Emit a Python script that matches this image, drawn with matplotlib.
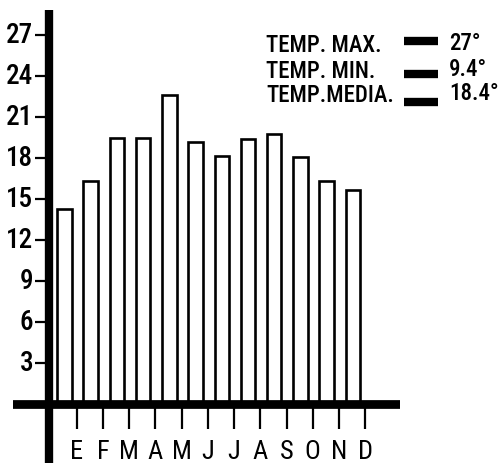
import matplotlib
matplotlib.use("Agg")
import matplotlib.pyplot as plt
from matplotlib.lines import Line2D

# Monthly mean temperature (deg C)
months = ["E", "F", "M", "A", "M", "J", "J", "A", "S", "O", "N", "D"]
temps = [14.3, 16.3, 19.5, 19.5, 22.6, 19.2, 18.2, 19.4, 19.8, 18.1, 16.3, 15.7]
yticks = [3, 6, 9, 12, 15, 18, 21, 24, 27]

legend_labels = ["TEMP. MAX.", "TEMP. MIN.", "TEMP.MEDIA."]
legend_values = ["27°", "9.4°", "18.4°"]

plt.rcParams["font.family"] = ["Roboto Condensed", "Liberation Sans Narrow", "DejaVu Sans"]
plt.rcParams["font.stretch"] = "condensed"

W, H = 499, 463
fig = plt.figure(figsize=(W / 100, H / 100), dpi=100)
fig.patch.set_facecolor("white")

# axes spans from baseline start (x=13px) to its end (x=400px), full height below y=10px
ax = fig.add_axes([13 / W, 0, (400 - 13) / W, (H - 10) / H])
ax.set_xlim(-1.966, 12.80)
ax.set_ylim(-4.32, 28.86)
ax.axis("off")

x = list(range(len(temps)))
ax.bar(x, temps, width=0.553, bottom=0, facecolor="white",
       edgecolor="black", linewidth=1.9, zorder=2)

# thick axis lines
ax.axvline(-0.592, color="black", linewidth=6.0, zorder=3)
ax.axhline(0, color="black", linewidth=6.3, zorder=3)

# y ticks drawn left of the thick vertical line
ax.hlines(yticks, -1.13, -0.60, color="black", linewidth=1.6, zorder=3)
for t in yticks:
    ax.text(-1.19, t, str(t), ha="right", va="center", fontsize=19.5,
            fontweight="medium")

# month ticks hang below the baseline, offset to the right of each bar
tick_x = [i + 0.47 for i in x]
ax.vlines(tick_x, -1.85, -0.1, color="black", linewidth=1.6, zorder=3)
for tx, m in zip(tick_x, months):
    ax.text(tx, -3.55, m, ha="center", va="center", fontsize=19)

# legend block in the top right (pixel rows from the top)
text_rows = [45, 72, 96]
value_rows = [43, 70, 94]
dash_rows = [41, 74, 102]
for ty, vy, dy, lab, val in zip(text_rows, value_rows, dash_rows,
                                legend_labels, legend_values):
    fig.text(266 / W, 1 - ty / H, lab, ha="left", va="center", fontsize=16.5,
             fontweight="medium")
    fig.text(449 / W, 1 - vy / H, val, ha="left", va="center", fontsize=16.5,
             fontweight="medium")
    fig.add_artist(Line2D([404 / W, 438 / W], [1 - dy / H] * 2,
                          color="black", linewidth=6, solid_capstyle="butt"))

fig.savefig("out.png", dpi=100, facecolor="white")
